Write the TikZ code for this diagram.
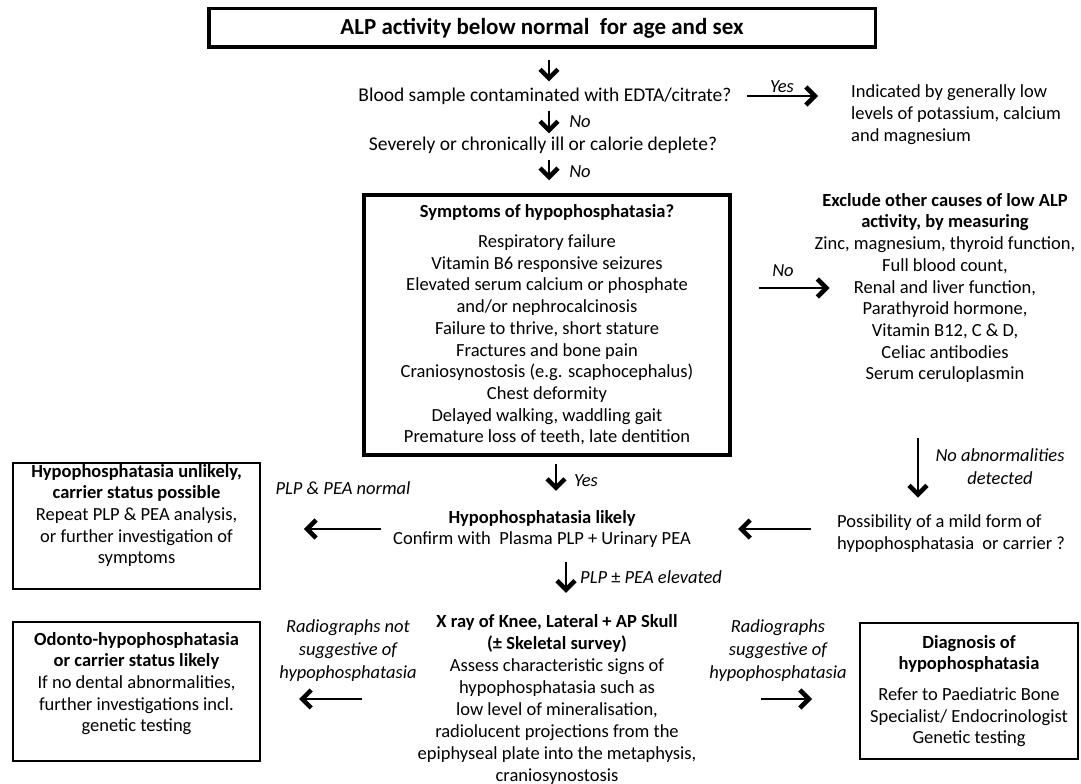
\documentclass[tikz,border=0pt]{standalone}
\usepackage{fontspec}
\setmainfont{Carlito}
\usetikzlibrary{arrows.meta}

\begin{document}
\begin{tikzpicture}[x=1pt, y=-1pt,
    every node/.style={inner sep=0pt, align=center, font=\fontsize{18.5}{21.7}\selectfont},
    quest/.style={font=\fontsize{19.5}{22}\selectfont},
    note/.style={font=\fontsize{18.5}{23}\selectfont\itshape},
    heavybox/.style={draw, line width=3.5pt},
    lightbox/.style={draw, line width=1.6pt},
    flow/.style={line width=2.8pt,
      -{Straight Barb[length=9pt, width=18pt, line width=4.5pt]}}]
\fill[white] (0,0) rectangle (1081,783);

% questions down the middle
\node[heavybox, minimum width=666.5, minimum height=38.5,
      font=\fontsize{23}{27}\selectfont\bfseries] (alp) at (542,28)
      {ALP activity below normal\ \ for age and sex};
\node[quest] (edta) at (545,96) {Blood sample contaminated with EDTA/citrate?};
\node[anchor=west, align=left] (lowk) at (851,114.5)
      {Indicated by generally low\\levels of potassium, calcium\\and magnesium};
\node[quest] (ill) at (543,145) {Severely or chronically ill or calorie deplete?};
\node[heavybox, minimum width=366, minimum height=260] (symp) at (547,325)
      {\textbf{Symptoms of hypophosphatasia?}\\[8pt]
       Respiratory failure\\
       Vitamin B6 responsive seizures\\
       Elevated serum calcium or phosphate\\
       and/or nephrocalcinosis\\
       Failure to thrive, short stature\\
       Fractures and bone pain\\
       Craniosynostosis (e.g. scaphocephalus)\\
       Chest deformity\\
       Delayed walking, waddling gait\\
       Premature loss of teeth, late dentition};
\node (exclude) at (945,288)
      {\textbf{Exclude other causes of low ALP}\\
       \textbf{activity, by measuring}\\
       Zinc, magnesium, thyroid function,\\
       Full blood count,\\
       Renal and liver function,\\
       Parathyroid hormone,\\
       Vitamin B12, C \& D,\\
       Celiac antibodies\\
       Serum ceruloplasmin};
\node[anchor=west, align=left] (mild) at (837,533.5)
      {Possibility of a mild form of\\hypophosphatasia\ \ or carrier ?};
\node (likely) at (542,529)
      {\textbf{Hypophosphatasia likely}\\Confirm with\ \ Plasma PLP + Urinary PEA};
\node[font=\fontsize{18.5}{22}\selectfont] (xray) at (557,699)
      {\textbf{X ray of Knee, Lateral + AP Skull}\\
       \textbf{(± Skeletal survey)}\\
       Assess characteristic signs of\\
       hypophosphatasia such as\\
       low level of mineralisation,\\
       radiolucent projections from the\\
       epiphyseal plate into the metaphysis,\\
       craniosynostosis};

% outcome boxes
\node (unlikely) at (136.5,515.5)
      {\textbf{Hypophosphatasia unlikely,}\\
       \textbf{carrier status possible}\\
       Repeat PLP \& PEA analysis,\\
       or further investigation of\\
       symptoms};
\draw[lightbox] (12.8,462.8) rectangle (260.2,589.2);
\node (odonto) at (136.5,683.5)
      {\textbf{Odonto-hypophosphatasia}\\
       \textbf{or carrier status likely}\\
       If no dental abnormalities,\\
       further investigations incl.\\
       genetic testing};
\draw[lightbox] (12.8,621.8) rectangle (260.2,761.2);
\node[lightbox, minimum width=218.4, minimum height=136.4] (diag) at (969,691)
      {\textbf{Diagnosis of}\\
       \textbf{hypophosphatasia}\\[9pt]
       Refer to Paediatric Bone\\
       Specialist/ Endocrinologist\\
       Genetic testing};

% labels on the arrows
\node[note] (yes1) at (782,87) {Yes};
\node[note] (no1) at (580,122) {No};
\node[note] (no2) at (580,172) {No};
\node[note] (no3) at (783,271) {No};
\node[note] (noabn) at (1000,467) {No abnormalities\\detected};
\node[note] (yes2) at (586,481) {Yes};
\node[note] (normal) at (343,488) {PLP \& PEA normal};
\node[note, anchor=west] (elev) at (580,577) {PLP {\upshape ±} PEA elevated};
\node[note] (notsugg) at (348,651) {Radiographs not\\suggestive of\\hypophosphatasia};
\node[note] (sugg) at (778,651) {Radiographs\\suggestive of\\hypophosphatasia};

% arrows
\coordinate (spine) at (549,0);
\coordinate (drop) at (918,438);
\draw[flow, shorten <=11, shorten >=6] (alp.south -| spine) -- (edta.north -| spine);
\draw[flow, shorten <=6, shorten >=3] (edta.south -| spine) -- (ill.north -| spine);
\draw[flow, shorten <=6, shorten >=13] (ill.south -| spine) -- (symp.north -| spine);
\draw[flow] ([xshift=15]edta.east) -- ([xshift=-33]lowk.west |- edta.east);
\draw[flow] ([xshift=27]symp.east |- exclude) -- ([xshift=15]exclude.west);
\draw[flow, shorten >=17] (drop) -- (drop |- mild.north);
\draw[flow] ([xshift=-26]mild.west |- likely.east) -- ([xshift=47]likely.east);
\draw[flow, shorten <=7, shorten >=19] ([xshift=9]symp.south) -- ([xshift=14]likely.north);
\draw[flow] ([xshift=-12]likely.west) -- ([xshift=62]unlikely.east |- likely.west);
\draw[flow, shorten <=14, shorten >=21] ([xshift=24]likely.south) -- ([xshift=9]xray.north);
\draw[flow] ([xshift=-55]xray.west) -- ([xshift=60]odonto.east |- xray.west);
\draw[flow] ([xshift=64]xray.east) -- ([xshift=-47]diag.west |- xray.east);
\end{tikzpicture}
\end{document}
